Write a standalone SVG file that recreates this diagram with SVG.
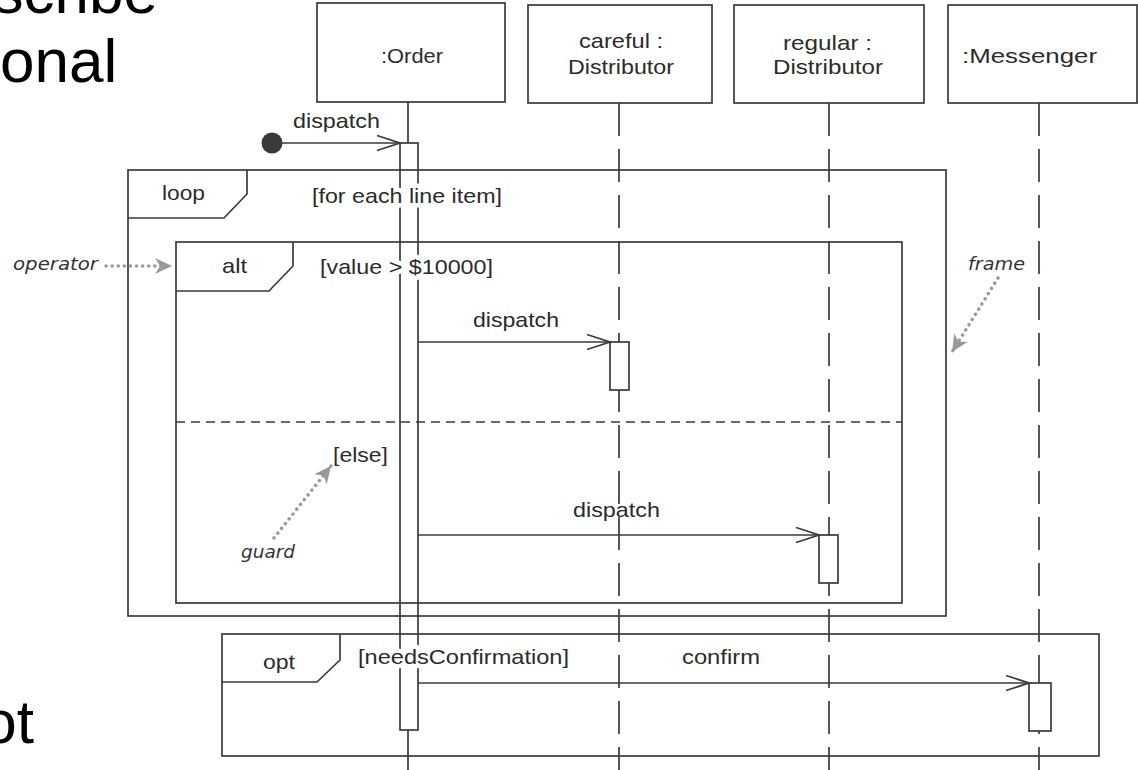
<svg xmlns="http://www.w3.org/2000/svg" width="1138" height="770" viewBox="0 0 1138 770">
<style>
.ln{fill:none;stroke:#3a3a3a;stroke-width:1.7}
.act{fill:#ffffff;stroke:#3a3a3a;stroke-width:1.7}
.ll{fill:none;stroke:#3a3a3a;stroke-width:1.7;stroke-dasharray:33 13}
.sep{fill:none;stroke:#3a3a3a;stroke-width:1.7;stroke-dasharray:9 6}
.t{font-family:"Liberation Sans",Arial,sans-serif;font-size:21px;fill:#2b2b2b}
.halo{stroke:#ffffff;stroke-width:9;stroke-linejoin:round;paint-order:stroke}
.big{font-family:"Liberation Sans",Arial,sans-serif;font-size:62px;fill:#000}
.note{font-family:"DejaVu Sans",sans-serif;font-style:italic;font-size:17px;fill:#333}
.dot{fill:none;stroke:#9a9a9a;stroke-width:3.5;stroke-linecap:round;stroke-dasharray:0.1 6}
</style>
<defs>
<marker id="open" markerUnits="userSpaceOnUse" markerWidth="26" markerHeight="20" refX="24" refY="9" orient="auto">
<path d="M1,1.5 L24,9 L1,16.5" fill="none" stroke="#3a3a3a" stroke-width="1.7"/>
</marker>
<marker id="gray" markerUnits="userSpaceOnUse" markerWidth="20" markerHeight="20" refX="18" refY="9" orient="auto">
<path d="M18,9 L1,1 L6,9 L1,17 Z" fill="#9a9a9a"/>
</marker>
</defs>
<rect width="1138" height="770" fill="#ffffff"/>
<text class="big" x="158" y="13" text-anchor="end">scribe</text>
<text class="big" x="0" y="82">onal</text>
<text class="big" x="34" y="743" text-anchor="end">ot</text>

<g id="order">
<rect class="ln" x="317" y="3" width="188" height="99"/>
<text class="t" x="381" y="63" textLength="62" lengthAdjust="spacingAndGlyphs">:Order</text>
<path class="ln" d="M408,102 L408,143 M408,730 L408,770"/>
<rect class="ln" x="400" y="143" width="18" height="587"/>
</g>
<g id="careful">
<rect class="ln" x="528" y="5" width="184" height="98"/>
<text class="t" x="579" y="48" textLength="84" lengthAdjust="spacingAndGlyphs">careful :</text>
<text class="t" x="568" y="74" textLength="106" lengthAdjust="spacingAndGlyphs">Distributor</text>
<path class="ll" d="M619,103 L619,770"/>
<rect class="act" x="610" y="342" width="19" height="48"/>
</g>
<g id="regular">
<rect class="ln" x="734" y="5" width="190" height="98"/>
<text class="t" x="783" y="50" textLength="89" lengthAdjust="spacingAndGlyphs">regular :</text>
<text class="t" x="773" y="74" textLength="110" lengthAdjust="spacingAndGlyphs">Distributor</text>
<path class="ll" d="M829,103 L829,770"/>
<rect class="act" x="819" y="535" width="19" height="48"/>
</g>
<g id="messenger">
<rect class="ln" x="948" y="5" width="189" height="98"/>
<text class="t" x="962" y="63" textLength="135" lengthAdjust="spacingAndGlyphs">:Messenger</text>
<path class="ll" d="M1039,103 L1039,770"/>
<rect class="act" x="1029" y="683" width="22" height="48"/>
</g>

<g id="frames">
<g id="loop">
<rect class="ln" x="128" y="170" width="818" height="446"/>
<path class="ln" d="M128,218 L224,218 L247,194 L247,170"/>
<text class="t" x="162" y="200" textLength="43" lengthAdjust="spacingAndGlyphs">loop</text>
<text class="t halo" x="312" y="203" textLength="190" lengthAdjust="spacingAndGlyphs">[for each line item]</text>
</g>
<g id="alt">
<rect class="ln" x="176" y="242" width="726" height="361"/>
<path class="ln" d="M176,291 L269,291 L293,266 L293,242"/>
<path class="sep" d="M176,422 L902,422"/>
<text class="t" x="222" y="273" textLength="25" lengthAdjust="spacingAndGlyphs">alt</text>
<text class="t halo" x="320" y="274" textLength="173" lengthAdjust="spacingAndGlyphs">[value &gt; $10000]</text>
<text class="t" x="333" y="462" textLength="55" lengthAdjust="spacingAndGlyphs">[else]</text>
</g>
<g id="opt">
<rect class="ln" x="222" y="634" width="877" height="122"/>
<path class="ln" d="M222,682 L317,682 L340,660 L340,634"/>
<text class="t" x="263" y="669" textLength="32" lengthAdjust="spacingAndGlyphs">opt</text>
<text class="t halo" x="358" y="664" textLength="211" lengthAdjust="spacingAndGlyphs">[needsConfirmation]</text>
</g>
</g>

<g id="connectors">
<circle cx="272" cy="143" r="10.5" fill="#3a3a3a"/>
<path class="ln" d="M282,143 L400,143" marker-end="url(#open)"/>
<text class="t" x="293" y="128" textLength="87" lengthAdjust="spacingAndGlyphs">dispatch</text>
<path class="ln" d="M418,342 L610,342" marker-end="url(#open)"/>
<text class="t" x="473" y="327" textLength="86" lengthAdjust="spacingAndGlyphs">dispatch</text>
<path class="ln" d="M418,535 L819,535" marker-end="url(#open)"/>
<text class="t" x="573" y="517" textLength="87" lengthAdjust="spacingAndGlyphs">dispatch</text>
<path class="ln" d="M418,683 L1029,683" marker-end="url(#open)"/>
<text class="t" x="682" y="664" textLength="78" lengthAdjust="spacingAndGlyphs">confirm</text>
</g>

<g id="annotations">
<text class="note" x="13" y="270" textLength="85" lengthAdjust="spacingAndGlyphs">operator</text>
<path class="dot" d="M106,266 L172,266" marker-end="url(#gray)"/>
<text class="note" x="968" y="270" textLength="57" lengthAdjust="spacingAndGlyphs">frame</text>
<path class="dot" d="M998,278 L952,352" marker-end="url(#gray)"/>
<text class="note" x="241" y="558" textLength="54" lengthAdjust="spacingAndGlyphs">guard</text>
<path class="dot" d="M274,538 L331,466" marker-end="url(#gray)"/>
</g>
</svg>
